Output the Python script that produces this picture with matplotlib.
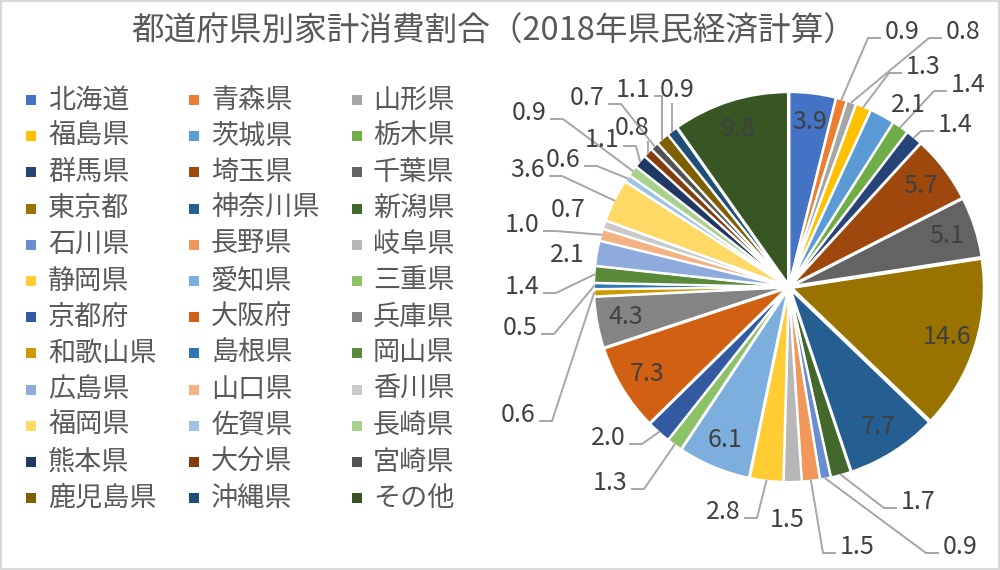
import matplotlib
matplotlib.use("Agg")
import matplotlib.pyplot as plt
from matplotlib.patches import Rectangle
import numpy as np

plt.rcParams['font.family'] = ['Noto Sans CJK JP', 'DejaVu Sans']

title = '都道府県別家計消費割合（2018年県民経済計算）'

prefs = ['北海道', '青森県', '山形県', '福島県', '茨城県', '栃木県',
         '群馬県', '埼玉県', '千葉県', '東京都', '神奈川県', '新潟県',
         '石川県', '長野県', '岐阜県', '静岡県', '愛知県', '三重県',
         '京都府', '大阪府', '兵庫県', '和歌山県', '島根県', '岡山県',
         '広島県', '山口県', '香川県', '福岡県', '佐賀県', '長崎県',
         '熊本県', '大分県', '宮崎県', '鹿児島県', '沖縄県', 'その他']

shares = [3.9, 0.9, 0.8, 1.3, 2.1, 1.4,
          1.4, 5.7, 5.1, 14.6, 7.7, 1.7,
          0.9, 1.5, 1.5, 2.8, 6.1, 1.3,
          2.0, 7.3, 4.3, 0.6, 0.5, 1.4,
          2.1, 1.0, 0.7, 3.6, 0.6, 0.9,
          1.1, 0.8, 0.7, 1.1, 0.9, 9.8]

colors = ['#4472C4', '#ED7D31', '#A5A5A5', '#FFC000', '#5B9BD5', '#70AD47',
          '#264478', '#9E480E', '#636363', '#997300', '#255E91', '#43682B',
          '#698ED0', '#F1975A', '#B7B7B7', '#FFCD33', '#7CAFDD', '#8CC168',
          '#335AA1', '#D26012', '#848484', '#CC9A00', '#2E75B6', '#5A8A39',
          '#8FAADC', '#F4B183', '#C9C9C9', '#FFD966', '#9DC3E6', '#A9D18E',
          '#203864', '#843C0C', '#525252', '#7F6000', '#1F4E79', '#375623']

# outside label placement (pixels): (x, y, draw leader) ; None -> inside
label_pos = [None, (902, 32, True), (963, 32, True), (923, 67, True), (908, 105, False), (968, 85, True),
             (955, 125, True), None, None, None, None, (918, 502, True),
             (960, 547, True), (857, 547, True), (787, 520, False), (723, 512, True), None, (610, 483, True),
             (608, 438, True), None, None, (518, 415, True), (520, 328, True), (522, 287, True),
             (567, 255, False), (522, 225, True), (568, 210, False), (528, 170, True), (563, 160, True), (529, 113, True),
             (602, 140, True), (632, 128, True), (587, 98, True), (633, 90, True), (677, 90, True), None]

fig = plt.figure(figsize=(10, 5.7), dpi=100)
ax = fig.add_axes([0, 0, 1, 1])

cx, cy, R = 789, 287, 192
wedges, _ = ax.pie(shares, colors=colors, startangle=-90, counterclock=True,
                   radius=R, center=(cx, cy), explode=[3] * len(shares),
                   wedgeprops=dict(edgecolor='white', linewidth=1.6), frame=True)
ax.set_xlim(0, 1000)
ax.set_ylim(570, 0)
ax.set_aspect('equal')
ax.axis('off')

lab_color = '#404040'
line_color = '#A6A6A6'

for w, v, pos in zip(wedges, shares, label_pos):
    th = np.deg2rad((w.theta1 + w.theta2) / 2)
    wx, wy = w.center
    txt = f'{v:.1f}'
    if pos is None:
        ax.text(wx + 0.85 * w.r * np.cos(th), wy + 0.85 * w.r * np.sin(th), txt,
                ha='center', va='center', fontsize=18, color=lab_color)
        continue
    tx, ty, leader = pos
    ax.text(tx, ty, txt, ha='center', va='center', fontsize=18, color=lab_color)
    if not leader:
        continue
    sx = wx + w.r * np.cos(th)
    sy = wy + w.r * np.sin(th)
    ly = ty + 6
    if abs(sx - tx) < 20:
        ax.plot([sx, sx], [ty + 14, sy], color=line_color, lw=1.4)
    elif sx > tx:
        ax0 = tx + 22
        ex = min(ax0 + 12, sx)
        ax.plot([ax0, ex, sx], [ly, ly, sy], color=line_color, lw=1.4)
    else:
        ax0 = tx - 22
        ex = max(ax0 - 12, sx)
        ax.plot([ax0, ex, sx], [ly, ly, sy], color=line_color, lw=1.4)

# legend, three columns, row-major
sq_x = [31, 194, 357]
tx_x = [48, 211, 373]
for i, (name, c) in enumerate(zip(prefs, colors)):
    row, col = divmod(i, 3)
    y = 100 + row * 36.2
    ax.scatter(sq_x[col], y, marker='s', s=60, color=c, linewidths=0)
    ax.text(tx_x[col], y, name, ha='left', va='center', fontsize=19.5, color='#595959')

ax.text(494, 32, title, ha='center', va='center', fontsize=23.5, color='#595959')

fig.patches.append(Rectangle((0.001, 0.001), 0.998, 0.997, transform=fig.transFigure,
                             fill=False, edgecolor='#D9D9D9', lw=1.5))

fig.savefig('out.png', dpi=100)
